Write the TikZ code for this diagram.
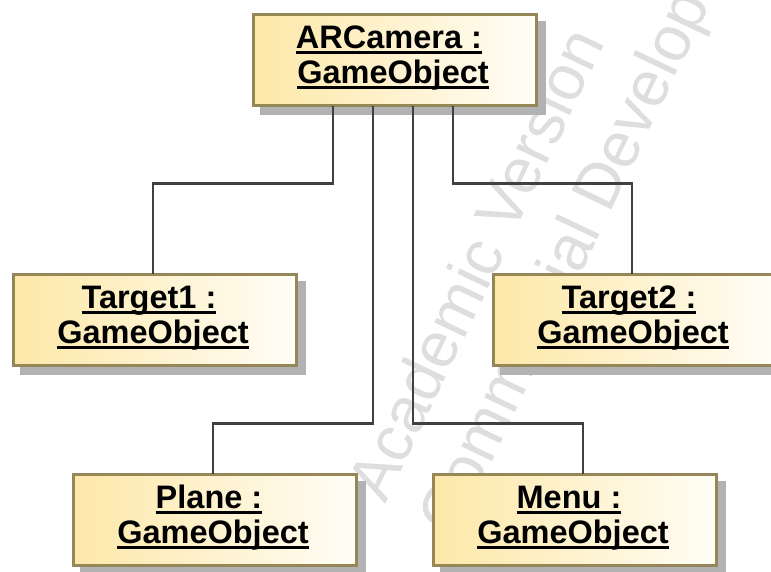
\documentclass[tikz,border=0pt]{standalone}
\usepackage{fontspec}
\setmainfont{Liberation Sans}

\definecolor{objborder}{RGB}{150,135,88}
\definecolor{objfill}{RGB}{253,232,168}
\definecolor{objfade}{RGB}{255,253,246}
\definecolor{objshadow}{RGB}{178,178,178}
\definecolor{wirecol}{RGB}{64,64,64}
\definecolor{wmark}{RGB}{222,222,222}

% underlined object name with a heavy rule
\newsavebox\ulbox
\newcommand\objul[1]{\sbox\ulbox{#1}\rlap{\rule[-5pt]{\wd\ulbox}{2.7pt}}\usebox\ulbox}

\tikzset{
  objbox/.style={draw=objborder, line width=2.7pt, left color=objfill, right color=objfade,
    minimum width=283.3pt, minimum height=91.3pt, inner sep=0pt, outer sep=0pt},
  objshade/.style={fill=objshadow},
  objlabel/.style={font=\bfseries\fontsize{32.5}{35}\selectfont, anchor=base, inner sep=0pt},
  wire/.style={draw=wirecol, line width=2.8pt},
  watermark/.style={font=\fontsize{64}{70}\selectfont, text=wmark, anchor=base west,
    rotate=64.5, inner sep=0pt},
}

% #1 name, #2 centre x, #3 centre y, #4 instance name
\newcommand\umlobject[4]{%
  \fill[objshade] (#2-135,#3-39) rectangle (#2+151,#3+55);
  \node[objbox] (#1) at (#2,#3) {};
  \node[objlabel] (#1-name) at (#2-6,#3-11.3) {\objul{#4}};
  \node[objlabel] (#1-type) at (#2-2,#3+23.5) {\objul{GameObject}};
}

\begin{document}
\begin{tikzpicture}[x=1pt,y=-1pt]
\useasboundingbox (0,0) rectangle (771,571);
\clip (0,0) rectangle (771,571);
\fill[white] (0,0) rectangle (771,571);

% background watermark
\node[watermark] (wm1) at (385,505) {Academic Version};
\node[watermark] (wm2) at (455,539) {Commercial Development};

% objects
\umlobject{cam}{395}{60}{ARCamera :}
\umlobject{t1}{155}{320}{Target1 :}
\umlobject{t2}{635}{320}{Target2 :}
\umlobject{plane}{215}{520}{Plane :}
\umlobject{menu}{575}{520}{Menu :}

% links
\draw[wire] ([xshift=-62pt]cam.south) -- ++(0,78) -| ([xshift=-2pt]t1.north);
\draw[wire] ([xshift=58pt]cam.south) -- ++(0,78) -| ([xshift=-3pt]t2.north);
\draw[wire] ([xshift=-22pt]cam.south) -- ++(0,318) -| ([xshift=-2pt]plane.north);
\draw[wire] ([xshift=18pt]cam.south) -- ++(0,318) -| ([xshift=8pt]menu.north);
\end{tikzpicture}
\end{document}
